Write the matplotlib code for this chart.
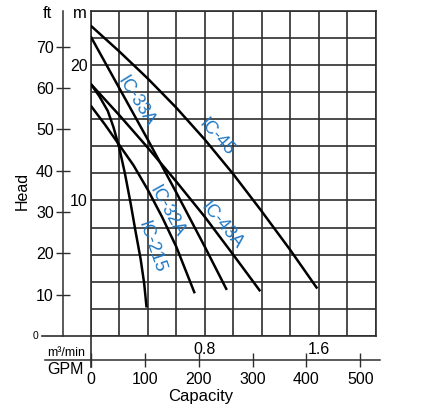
import matplotlib
matplotlib.use('Agg')
import matplotlib.pyplot as plt
import numpy as np

plt.rcParams['font.family'] = ['Liberation Sans', 'DejaVu Sans']

# pump curves: capacity (m3/min) vs head (m)
ic45_q = [0.0, 0.2, 0.4, 0.6, 0.8, 1.0, 1.2, 1.4, 1.59]
ic45_h = [22.9, 21.0, 19.0, 16.85, 14.5, 11.95, 9.2, 6.35, 3.5]
ic33a_q = [0.0, 0.2, 0.4, 0.6, 0.8, 0.955]
ic33a_h = [22.1, 18.3, 14.5, 10.6, 6.6, 3.4]
ic43a_q = [0.0, 0.2, 0.4, 0.6, 0.8, 1.0, 1.19]
ic43a_h = [18.6, 16.3, 13.9, 11.4, 8.8, 6.0, 3.3]
ic32a_q = [0.0, 0.1, 0.2, 0.3, 0.4, 0.5, 0.6, 0.73]
ic32a_h = [17.0, 15.6, 14.1, 12.6, 10.8, 8.8, 6.6, 3.15]
ic215_q = [0.0, 0.06, 0.12, 0.16, 0.2, 0.24, 0.28, 0.315, 0.35, 0.375, 0.392]
ic215_h = [18.6, 17.7, 16.6, 15.4, 13.9, 12.0, 9.8, 7.7, 5.7, 3.9, 2.1]

# curve labels: name, position (m3/min, m), rotation
label_names = ['IC-33A', 'IC-45', 'IC-32A', 'IC-43A', 'IC-215']
label_q = [0.321, 0.885, 0.533, 0.919, 0.428]
label_h = [17.29, 14.65, 9.23, 8.13, 6.54]
label_rot = [-58, -48, -61, -50, -71]

ft_ticks = [10, 20, 30, 40, 50, 60, 70]
m_labels = [10, 20]
m3_labels = [0.8, 1.6]
gpm_ticks = [0, 100, 200, 300, 400, 500]

W, H = 431, 407
FT_PER_M = 3.28084
GPM_PER_M3 = 264.172

fig = plt.figure(figsize=(W / 100, H / 100), dpi=100)

def fx(px):
    return px / W

def fy(py):
    return 1 - py / H

left, right, top, bottom = 90.7, 375.7, 10.7, 336.0
ax = fig.add_axes([fx(left), fy(bottom), fx(right - left), (bottom - top) / H])
ax.set_xlim(0, 2.0)
ax.set_ylim(0, 24)

grid_c = '#2e2e2e'
xg = np.round(np.arange(0, 2.01, 0.2), 1)
yg = np.arange(0, 25, 2)
ax.set_xticks(xg, labels=[f'{v:.1f}' if v in m3_labels else '' for v in xg])
ax.set_yticks(yg, labels=[str(v) if v in m_labels else '' for v in yg])
ax.tick_params(axis='both', length=0, labelsize=11.5)
ax.tick_params(axis='x', pad=4)
ax.tick_params(axis='y', pad=2)
ax.grid(True, color=grid_c, linewidth=1.2)
for s in ax.spines.values():
    s.set_color(grid_c)
    s.set_linewidth(1.2)

curves = [(ic45_q, ic45_h), (ic33a_q, ic33a_h), (ic43a_q, ic43a_h),
          (ic32a_q, ic32a_h), (ic215_q, ic215_h)]
for q, h in curves:
    ax.plot(q, h, color='black', linewidth=1.8, solid_capstyle='butt', zorder=3)

for name, q, h, r in zip(label_names, label_q, label_h, label_rot):
    ax.text(q, h, name, color='#1f78c4', fontsize=13, rotation=r,
            rotation_mode='anchor', ha='center', va='center', zorder=4)

# extensions of the zero lines
ax.plot([-0.171, 0], [0, 0], transform=ax.transAxes, color=grid_c,
        linewidth=1.2, clip_on=False)
ax.plot([0, 0], [0, -0.095], transform=ax.transAxes, color=grid_c,
        linewidth=1.2, clip_on=False)

# ft axis
ax_ft = fig.add_axes([fx(63.3), fy(bottom), 0.0001, (bottom - top) / H])
ax_ft.set_ylim(0, 24 * FT_PER_M)
ax_ft.set_xticks([])
ax_ft.set_yticks(ft_ticks)
ax_ft.tick_params(axis='y', direction='inout', length=9.5, width=1.0,
                  color=grid_c, labelsize=11.5, pad=2)
for k in ['top', 'right', 'bottom']:
    ax_ft.spines[k].set_visible(False)
ax_ft.spines['left'].set_color(grid_c)
ax_ft.spines['left'].set_linewidth(1.1)
ax_ft.patch.set_visible(False)

# GPM axis
gpm_y = 360
ax_gpm = fig.add_axes([fx(left), fy(gpm_y), fx(right - left), 0.0001])
ax_gpm.set_xlim(0, 2.0 * GPM_PER_M3)
ax_gpm.set_yticks([])
ax_gpm.set_xticks(gpm_ticks)
ax_gpm.tick_params(axis='x', direction='inout', length=9.5, width=1.0,
                   color=grid_c, labelsize=11.5, pad=4)
for s in ax_gpm.spines.values():
    s.set_visible(False)
ax_gpm.patch.set_visible(False)
ax_gpm.plot([-0.16, 1.015], [0, 0], transform=ax_gpm.transAxes,
            color=grid_c, linewidth=1.1, clip_on=False)

fig.text(fx(47), fy(14), 'ft', fontsize=12, ha='center', va='center')
fig.text(fx(80), fy(14), 'm', fontsize=12, ha='center', va='center')
fig.text(fx(36), fy(336), '0', fontsize=7.5, ha='center', va='center')
fig.text(fx(66), fy(353), 'm³/min', fontsize=9, ha='center', va='center')
fig.text(fx(65), fy(369), 'GPM', fontsize=11.5, ha='center', va='center')
fig.text(fx(201), fy(396), 'Capacity', fontsize=12, ha='center', va='center')
fig.text(fx(22), fy(191), 'Head', fontsize=11.5, ha='center', va='center',
         rotation=90)

fig.savefig('out.png', dpi=100, facecolor='white')
